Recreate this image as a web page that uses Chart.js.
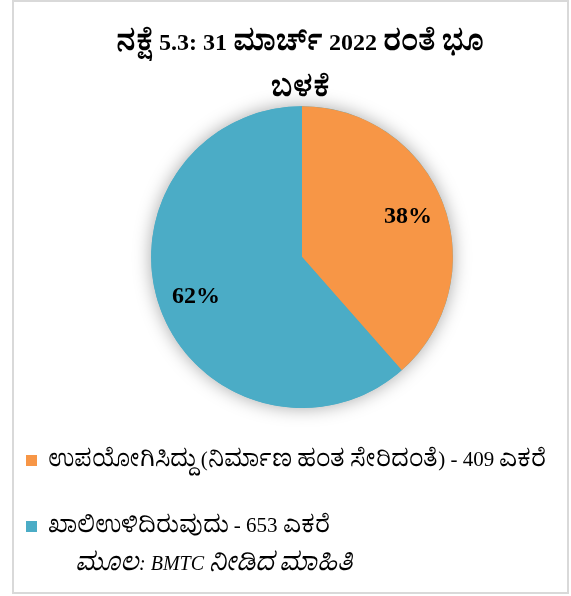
<!DOCTYPE html>
<html>
<head>
<meta charset="utf-8">
<script src="https://cdn.jsdelivr.net/npm/chart.js@4/dist/chart.umd.min.js"></script>
<style>
  /* police kannada agrandie pour se rapprocher de l'original */
  @font-face { font-family: 'KnTitre'; font-weight: bold; size-adjust: 120%; unicode-range: U+0C80-0CFF;
    src: local('Noto Serif Kannada Bold'), local('NotoSerifKannada-Bold'), local('Noto Serif Kannada'), local('Noto Serif Kannada Regular'), local('NotoSerifKannada-Regular'); }
  @font-face { font-family: 'KnLegende'; size-adjust: 114%; unicode-range: U+0C80-0CFF;
    src: local('Noto Serif Kannada'), local('Noto Serif Kannada Regular'), local('NotoSerifKannada-Regular'); }
  @font-face { font-family: 'KnSource'; size-adjust: 128%; unicode-range: U+0C80-0CFF;
    src: local('Noto Serif Kannada'), local('Noto Serif Kannada Regular'), local('NotoSerifKannada-Regular'); }
  html, body { margin: 0; padding: 0; background: #fff; overflow: hidden; }
  #wrap { position: relative; width: 571px; height: 596px; }
  #myChart { position: absolute; left: 0; top: 0; }
  #frame { position: absolute; left: 12px; top: 0; width: 557px; height: 594px;
           box-sizing: border-box; border: 2px solid #d9d9d9; pointer-events: none; }
</style>
</head>
<body>
<div id="wrap">
  <canvas id="myChart" width="571" height="594"></canvas>
  <div id="frame"></div>
</div>
<script>
// donnees
const titre = ['ನಕ್ಷೆ 5.3: 31 ಮಾರ್ಚ್ 2022 ರಂತೆ ಭೂ', 'ಬಳಕೆ']
const source = 'ಮೂಲ: BMTC ನೀಡಿದ ಮಾಹಿತಿ'
const categories = [
  'ಉಪಯೋಗಿಸಿದ್ದು (ನಿರ್ಮಾಣ ಹಂತ ಸೇರಿದಂತೆ) - 409 ಎಕರೆ',
  'ಖಾಲಿಉಳಿದಿರುವುದು - 653 ಎಕರೆ'
]
const acres = [409, 653]
const pourcentsLus = ['38%', '62%']
const couleurs = ['#F79646', '#4BACC6']

const policeTitre = "'Liberation Serif', 'KnTitre', 'Noto Serif Kannada', serif"
const policeLegende = "'Liberation Serif', 'KnLegende', 'Noto Serif Kannada', serif"
const policeSource = "'Liberation Serif', 'KnSource', 'Noto Serif Kannada', serif"

// ombre grise autour du camembert
const ombre = {
  id: 'ombre',
  beforeDatasetsDraw(chart) {
    const arc = chart.getDatasetMeta(0).data[0]
    if (!arc) return
    const { x, y, outerRadius } = arc.getProps(['x', 'y', 'outerRadius'], true)
    const ctx = chart.ctx
    ctx.save()
    ctx.shadowColor = 'rgba(0, 0, 0, 0.35)'
    ctx.shadowBlur = 18
    ctx.fillStyle = couleurs[1]
    ctx.beginPath()
    ctx.arc(x, y, outerRadius, 0, Math.PI * 2)
    ctx.fill()
    ctx.restore()
  }
}

// pourcentages dans les parts
const pourcents = {
  id: 'pourcents',
  afterDatasetsDraw(chart) {
    const ctx = chart.ctx
    ctx.save()
    ctx.font = "bold 24px 'Liberation Serif', serif"
    ctx.fillStyle = '#000'
    ctx.textAlign = 'center'
    ctx.textBaseline = 'middle'
    chart.getDatasetMeta(0).data.forEach((arc, i) => {
      const p = arc.getProps(['x', 'y', 'startAngle', 'endAngle', 'outerRadius'], true)
      const mid = (p.startAngle + p.endAngle) / 2
      const r = p.outerRadius * 0.75
      ctx.fillText(pourcentsLus[i], p.x + Math.cos(mid) * r, p.y + Math.sin(mid) * r)
    })
    ctx.restore()
  }
}

// decalages des boites (legende a gauche, source en retrait)
const decalage = {
  id: 'decalage',
  afterLayout(chart) {
    const bouge = (box, dx, dy) => {
      if (!box) return
      box.left += dx
      box.top += dy; box.bottom += dy
    }
    bouge(chart.legend, -52, -3)
    bouge(chart.titleBlock, -4, 0)
    const sous = chart.boxes.find(b => b.options && b.options.text === source)
    bouge(sous, 42, 0)
  }
}

function dessine() {
  const data = {
    labels: categories,
    datasets: [{
      data: acres,
      backgroundColor: couleurs,
      borderWidth: 0,
      hoverOffset: 0
    }]
  }

  const config = {
    type: 'pie',
    data: data,
    options: {
      responsive: false,
      animation: false,
      layout: { padding: { left: 33, right: 0, top: 0, bottom: 0 } },
      plugins: {
        title: {
          display: true,
          text: titre,
          color: '#000',
          font: { family: policeTitre, size: 24, weight: 'bold', lineHeight: 1.92 },
          padding: { top: 21, bottom: -7 }
        },
        subtitle: {
          display: true,
          text: source,
          position: 'bottom',
          align: 'start',
          color: '#000',
          font: { family: policeSource, size: 20, style: 'italic', weight: 'normal', lineHeight: 1.2 },
          padding: { top: 3, bottom: 17 }
        },
        legend: {
          position: 'bottom',
          align: 'start',
          labels: {
            color: '#000',
            boxWidth: 11,
            boxHeight: 11,
            padding: 45,
            font: { family: policeLegende, size: 21 }
          }
        },
        tooltip: { enabled: false }
      }
    },
    plugins: [ombre, pourcents, decalage]
  }

  const ctx = document.getElementById('myChart')
  var camembert = new Chart(ctx, config)
}

// attendre les polices locales avant de dessiner
const charge = f => document.fonts.load(f, 'ಕ').catch(() => null)
Promise.all([
  charge('bold 24px ' + policeTitre),
  charge('21px ' + policeLegende),
  charge('italic 20px ' + policeSource)
]).then(dessine)
</script>
</body>
</html>
